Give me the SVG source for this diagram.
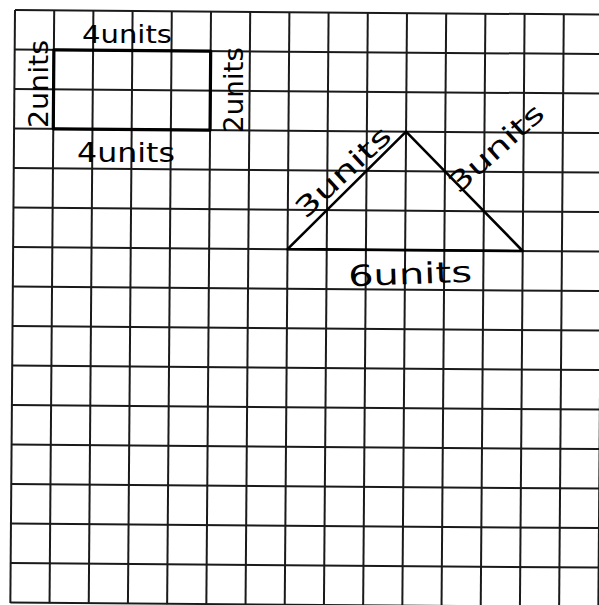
<svg xmlns="http://www.w3.org/2000/svg" width="599" height="605" viewBox="0 0 599 605">
<style>
.g line{stroke:#1a1a1a;stroke-width:2}
.shape{fill:none;stroke:#000;stroke-linecap:round;stroke-linejoin:round}
.t{font-family:"DejaVu Sans","Liberation Sans",sans-serif;fill:#000;text-anchor:middle;dominant-baseline:central}
</style>
<rect width="599" height="605" fill="#fff"/>
<g transform="rotate(0.45 15 10)">
<g id="grid" class="g">
<line x1="15" y1="10" x2="15" y2="603"/>
<line x1="54.2" y1="10" x2="54.2" y2="603"/>
<line x1="93.4" y1="10" x2="93.4" y2="603"/>
<line x1="132.6" y1="10" x2="132.6" y2="603"/>
<line x1="171.8" y1="10" x2="171.8" y2="603"/>
<line x1="211" y1="10" x2="211" y2="603"/>
<line x1="250.2" y1="10" x2="250.2" y2="603"/>
<line x1="289.4" y1="10" x2="289.4" y2="603"/>
<line x1="328.6" y1="10" x2="328.6" y2="603"/>
<line x1="367.8" y1="10" x2="367.8" y2="603"/>
<line x1="407" y1="10" x2="407" y2="603"/>
<line x1="446.2" y1="10" x2="446.2" y2="603"/>
<line x1="485.4" y1="10" x2="485.4" y2="603"/>
<line x1="524.6" y1="10" x2="524.6" y2="603"/>
<line x1="563.8" y1="10" x2="563.8" y2="603"/>
<line x1="603" y1="10" x2="603" y2="603"/>
<line x1="15" y1="10" x2="610" y2="10"/>
<line x1="15" y1="49.5" x2="610" y2="49.5"/>
<line x1="15" y1="89" x2="610" y2="89"/>
<line x1="15" y1="128.5" x2="610" y2="128.5"/>
<line x1="15" y1="168" x2="610" y2="168"/>
<line x1="15" y1="207.5" x2="610" y2="207.5"/>
<line x1="15" y1="247" x2="610" y2="247"/>
<line x1="15" y1="286.5" x2="610" y2="286.5"/>
<line x1="15" y1="326" x2="610" y2="326"/>
<line x1="15" y1="365.5" x2="610" y2="365.5"/>
<line x1="15" y1="405" x2="610" y2="405"/>
<line x1="15" y1="444.5" x2="610" y2="444.5"/>
<line x1="15" y1="484" x2="610" y2="484"/>
<line x1="15" y1="523.5" x2="610" y2="523.5"/>
<line x1="15" y1="563" x2="610" y2="563"/>
<line x1="15" y1="602.5" x2="610" y2="602.5"/>
</g>
<g id="rectangle">
<rect class="shape" x="54.2" y="49.5" width="156.8" height="79" stroke-width="3.2"/>
</g>
<g id="triangle">
<polygon class="shape" points="289.4,247 407,128.5 524.6,247" stroke-width="2.6"/>
</g>
</g>
<g id="labels">
<text class="t" x="127" y="34" font-size="25" textLength="90" lengthAdjust="spacingAndGlyphs">4units</text>
<text class="t" x="126" y="152" font-size="27" textLength="98" lengthAdjust="spacingAndGlyphs">4units</text>
<text class="t" transform="translate(38 84) rotate(-90)" font-size="27" textLength="88" lengthAdjust="spacingAndGlyphs">2units</text>
<text class="t" transform="translate(233 90) rotate(-90)" font-size="27" textLength="86" lengthAdjust="spacingAndGlyphs">2units</text>
<text class="t" transform="translate(343 172) rotate(-43)" font-size="27" textLength="120" lengthAdjust="spacingAndGlyphs">3units</text>
<text class="t" transform="translate(496 148) rotate(-42)" font-size="27" textLength="118" lengthAdjust="spacingAndGlyphs">3units</text>
<text class="t" transform="translate(410 274) rotate(-2)" font-size="29" textLength="124" lengthAdjust="spacingAndGlyphs">6units</text>
</g>
</svg>
